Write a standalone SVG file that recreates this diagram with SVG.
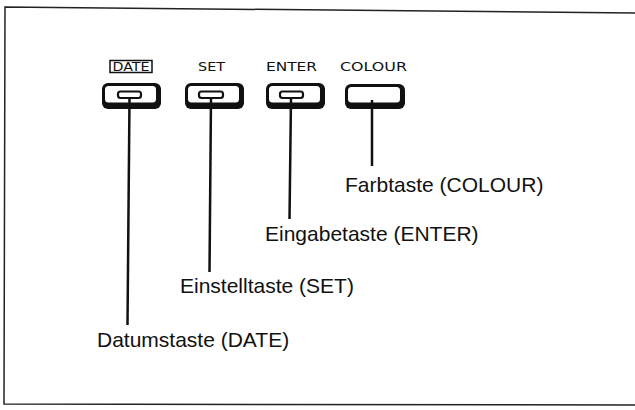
<svg xmlns="http://www.w3.org/2000/svg" width="635" height="410" viewBox="0 0 635 410">
<style>
.frame{fill:none;stroke:#222;stroke-width:1.5}
.btnOuter{fill:#111}
.btnInner{fill:#fff}
.slot{fill:#fff;stroke:#111;stroke-width:2.2}
.key{font-family:"DejaVu Sans","Liberation Sans",sans-serif;font-size:11.5px;fill:#111}
.lbl{font-family:"Liberation Sans",Arial,sans-serif;font-size:21px;fill:#111}
.stem{stroke:#111;stroke-width:2.5;fill:none}
</style>
<rect width="635" height="410" fill="#fff"/>
<path class="frame" d="M635,13 L5,7 L4,404 L635,405"/>
<g id="date">
<rect x="110" y="60.5" width="42" height="12" fill="none" stroke="#111" stroke-width="1.5"/>
<text class="key" x="112.5" y="70.8" textLength="37" lengthAdjust="spacingAndGlyphs">DATE</text>
<rect class="btnOuter" x="102" y="83" width="59" height="26" rx="6"/>
<rect class="btnInner" x="105" y="86" width="51" height="16.5" rx="3.5"/>
<rect class="slot" x="118" y="91.5" width="23" height="6.5" rx="2.5"/>
<text class="lbl" x="97" y="347">Datumstaste (DATE)</text>
</g>
<g id="set">
<text class="key" x="198" y="70.8" textLength="27" lengthAdjust="spacingAndGlyphs">SET</text>
<rect class="btnOuter" x="185" y="83" width="59" height="26" rx="6"/>
<rect class="btnInner" x="188" y="86" width="51" height="16.5" rx="3.5"/>
<rect class="slot" x="199" y="91.5" width="24" height="6.5" rx="2.5"/>
<text class="lbl" x="180" y="293">Einstelltaste (SET)</text>
</g>
<g id="enter">
<text class="key" x="266" y="70.8" textLength="51" lengthAdjust="spacingAndGlyphs">ENTER</text>
<rect class="btnOuter" x="266" y="83" width="59" height="26" rx="6"/>
<rect class="btnInner" x="269" y="86" width="51" height="16.5" rx="3.5"/>
<rect class="slot" x="280" y="91.5" width="23" height="6.5" rx="2.5"/>
<text class="lbl" x="265" y="241">Eingabetaste (ENTER)</text>
</g>
<g id="colour">
<text class="key" x="340" y="70.8" textLength="67" lengthAdjust="spacingAndGlyphs">COLOUR</text>
<rect class="btnOuter" x="345" y="84" width="60" height="25" rx="6"/>
<rect class="btnInner" x="348" y="87" width="52" height="15.5" rx="3.5"/>
<text class="lbl" x="345" y="192">Farbtaste (COLOUR)</text>
</g>
<g id="connectors">
<path class="stem" d="M129.5,98 L127.5,325"/>
<path class="stem" d="M211,98 L209.5,272"/>
<path class="stem" d="M291,98 L289.5,219"/>
<path class="stem" d="M372,100 L372,166"/>
</g>
</svg>
